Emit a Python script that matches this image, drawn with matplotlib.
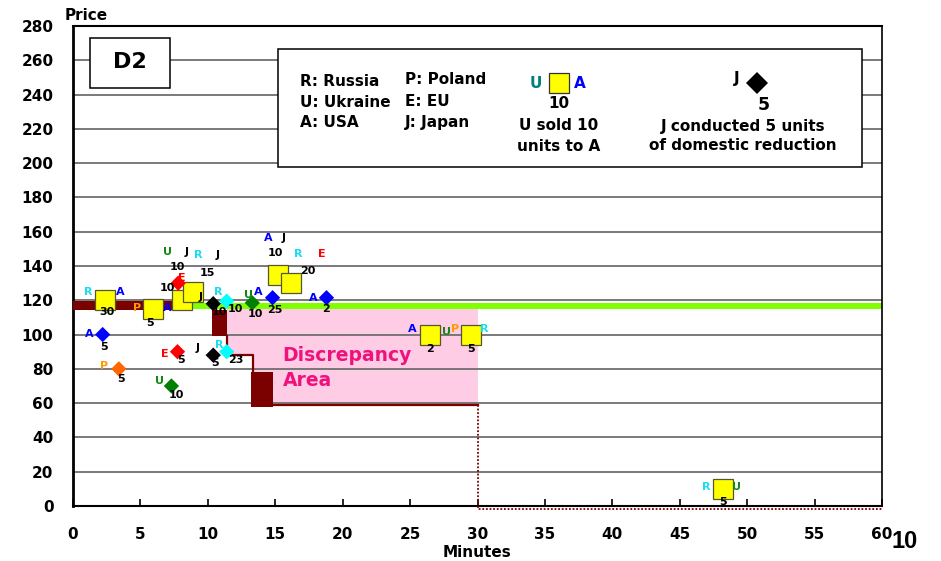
import matplotlib
matplotlib.use("Agg")
import matplotlib.pyplot as plt
from matplotlib.patches import Rectangle
from matplotlib.lines import Line2D

#%% data
# trades: square markers, seller on the left, buyer on the right
trade_min = [2.4, 5.9, 8.1, 8.9, 15.2, 16.2, 26.5, 29.5, 48.2]
trade_price = [120, 115, 120, 125, 135, 130, 100, 100, 10]
trade_seller = ["R", "P", "U", "R", "A", "R", "A", "P", "R"]
trade_buyer = ["A", "A", "J", "J", "J", "E", "U", "R", "U"]
trade_qty = [30, 5, 10, 15, 10, 20, 2, 5, 5]

# domestic reductions: diamond markers
red_min = [2.2, 3.4, 7.3, 7.75, 7.8, 10.4, 11.4, 13.3, 14.8, 18.8, 10.4, 11.4]
red_price = [100, 80, 70, 90, 130, 118, 119.5, 118.5, 121.5, 121.5, 88, 90]
red_country = ["A", "P", "U", "E", "E", "J", "R", "U", "A", "A", "J", "R"]
red_qty = [5, 5, 10, 5, 10, 10, 10, 10, 25, 2, 5, 23]

# supply step (dark red) and the discrepancy area
block_start = [0, 10.33, 13.18]
block_end = [7.72, 11.45, 14.81]
block_low = [114.4, 99.2, 57.9]
block_high = [119.6, 114.4, 78.4]
step_x = [11.45, 11.45, 13.33, 13.33]
step_y = [99.2, 88.1, 88.1, 78.4]
floor_x = [14.81, 30]
floor_y = [58.9, 58.9]
tail_x = [30, 30, 60]
tail_y = [58.9, -2, -2]
gap_x = [11.45, 13.33, 30]
gap_low = [88.1, 58.9, 58.9]
gap_top = 114.9
market_price = 116.7
market_from = 7.72

x_ticks = list(range(0, 61, 5))
y_ticks = list(range(0, 281, 20))

#%% label offsets (pixels) for each marker
trade_offsets = [
    ((-17, 8), (15, 8), (2, -12)),
    ((-15, 1), (15, 1), (-3, -14)),
    ((-15, 48), (4, 48), (-5, 33)),
    ((5, 37), (25, 37), (14, 19)),
    ((-10, 37), (6, 37), (-3, 22)),
    ((7, 29), (30, 29), (16, 12)),
    ((-18, 6), (16, 3), (0, -14)),
    ((-16, 6), (13, 6), (0, -14)),
    ((-17, 2), (14, 2), (0, -13)),
]
red_offsets = [
    ((-13, 1), (1, -12)),
    ((-15, 3), (2, -10)),
    ((-12, 5), (5, -9)),
    ((-13, -2), (4, -8)),
    ((4, 5), (-11, -5)),
    ((-13, 7), (6, -8)),
    ((-8, 9), (9, -8)),
    ((-4, 8), (3, -11)),
    ((-14, 6), (2, -12)),
    ((-13, 0), (0, -11)),
    ((-16, 7), (2, -8)),
    ((-7, 7), (9, -8)),
]

label_color = {"R": "#18DDEE", "U": "#118811", "A": "#0000FF",
               "P": "#FF9900", "E": "#FF0000", "J": "#000000"}
marker_color = {"R": "#00FFFF", "U": "#008000", "A": "#0000FF",
                "P": "#FF6600", "E": "#FF0000", "J": "#000000"}
MAROON = "#7B0000"
FONT = "DejaVu Sans"

W, H = 941, 561
fig = plt.figure(figsize=(W / 100, H / 100), dpi=100)
ax = fig.add_axes([73 / W, 1 - 506 / H, 809 / W, 480 / H])


def fx(px):
    return px / W


def fy(py):
    return 1 - py / H


#%% background: grid and discrepancy area
for v in y_ticks[1:-1]:
    ax.axhline(v, color="#6E6E6E", lw=1.3, zorder=1)

ax.fill_between(gap_x, gap_low, gap_top, step="post", color="#FFCCE6",
                lw=0, zorder=0.5)

ax.text(15.55, 84.8, "Discrepancy", color="#F0127C", fontsize=13.5,
        fontweight="bold", family=FONT, va="baseline", zorder=3)
ax.text(15.55, 70.2, "Area", color="#F0127C", fontsize=13.5,
        fontweight="bold", family=FONT, va="baseline", zorder=3)

#%% market line and supply step
ax.plot([market_from, 60], [market_price, market_price], color="#7FFF00",
        lw=4.3, solid_capstyle="butt", zorder=2)
for x0, x1, lo, hi in zip(block_start, block_end, block_low, block_high):
    ax.bar(x0, hi - lo, width=x1 - x0, bottom=lo, align="edge",
           color=MAROON, lw=0, zorder=3)
ax.plot(step_x, step_y, color=MAROON, lw=1.6, zorder=3)
ax.plot(floor_x, floor_y, color=MAROON, lw=1.6, zorder=3)
ax.plot(tail_x, tail_y, color=MAROON, lw=1.3, ls=(0, (1, 1)), zorder=3,
        clip_on=False)

#%% markers and their labels
ax.plot(trade_min, trade_price, "s", ms=14.4, mfc="#FFFF00", mec="#555533",
        mew=0.9, ls="none", zorder=5)
ax.scatter(red_min, red_price, marker="D", s=7.8 ** 2,
           c=[marker_color[c] for c in red_country], lw=0, zorder=6)

small = dict(fontsize=8, fontweight="bold", family=FONT, ha="center",
             va="center", textcoords="offset pixels", zorder=7)
for i in range(len(trade_min)):
    xy = (trade_min[i], trade_price[i])
    so, bo, qo = trade_offsets[i]
    ax.annotate(trade_seller[i], xy, xytext=so,
                color=label_color[trade_seller[i]], **small)
    ax.annotate(trade_buyer[i], xy, xytext=bo,
                color=label_color[trade_buyer[i]], **small)
    ax.annotate(str(trade_qty[i]), xy, xytext=qo, color="black", **small)

for i in range(len(red_min)):
    xy = (red_min[i], red_price[i])
    co, qo = red_offsets[i]
    ax.annotate(red_country[i], xy, xytext=co,
                color=label_color[red_country[i]], **small)
    ax.annotate(str(red_qty[i]), xy, xytext=qo, color="black", **small)

#%% axes
ax.set_xlim(0, 60)
ax.set_ylim(0, 280)
ax.set_xticks(x_ticks)
ax.set_yticks(y_ticks)
ax.tick_params(axis="x", direction="in", length=5, width=1.2, pad=15,
               labelsize=11)
ax.tick_params(axis="y", length=0, pad=14, labelsize=11)
for lab in ax.get_xticklabels() + ax.get_yticklabels():
    lab.set_fontweight("bold")
    lab.set_family(FONT)
ax.spines["left"].set_linewidth(2.0)
ax.spines["bottom"].set_linewidth(1.5)
ax.spines["top"].set_linewidth(1.5)
ax.spines["right"].set_linewidth(1.2)
ax.set_xlabel("Minutes", fontsize=11, fontweight="bold", family=FONT,
              labelpad=2)

fig.text(fx(86), fy(15), "Price", fontsize=11, fontweight="bold",
         family=FONT, ha="center", va="center")
fig.text(fx(905), fy(541), "10", fontsize=17, fontweight="bold",
         family="Liberation Sans", ha="center", va="center")

#%% D2 box
fig.add_artist(Rectangle((fx(90), fy(88)), 80 / W, 50 / H, facecolor="white",
                         edgecolor="black", lw=1.1, transform=fig.transFigure,
                         zorder=3))
fig.text(fx(130), fy(62), "D2", fontsize=16, fontweight="bold", family=FONT,
         ha="center", va="center", zorder=4)

#%% legend box
fig.add_artist(Rectangle((fx(278), fy(167)), (862 - 278) / W, (167 - 49) / H,
                         facecolor="white", edgecolor="black", lw=1.1,
                         transform=fig.transFigure, zorder=3))
leg = dict(fontsize=11, fontweight="bold", family=FONT, zorder=4)
for txt, px, py in [("R: Russia", 300, 81), ("U: Ukraine", 300, 102),
                    ("A: USA", 300, 122), ("P: Poland", 405, 80),
                    ("E: EU", 405, 101), ("J: Japan", 405, 122)]:
    fig.text(fx(px), fy(py), txt, ha="left", va="center", **leg)

fig.add_artist(Line2D([fx(559)], [fy(83)], marker="s", ms=13.7,
                      mfc="#FFFF00", mec="#333333", mew=0.9, ls="none",
                      transform=fig.transFigure, zorder=4))
fig.text(fx(536), fy(84), "U", color="#008080", ha="center", va="center",
         **leg)
fig.text(fx(580), fy(84), "A", color="#0000FF", ha="center", va="center",
         **leg)
fig.text(fx(559), fy(103), "10", ha="center", va="center", **leg)
fig.text(fx(559), fy(126), "U sold 10", ha="center", va="center", **leg)
fig.text(fx(559), fy(147), "units to A", ha="center", va="center", **leg)

fig.add_artist(Line2D([fx(757)], [fy(83)], marker="D", ms=11.2, mfc="black",
                      mec="black", mew=0, ls="none",
                      transform=fig.transFigure, zorder=4))
fig.text(fx(737), fy(79), "J", ha="center", va="center", **leg)
fig.text(fx(764), fy(105), "5", ha="center", va="center",
         fontsize=12.5, fontweight="bold", family=FONT, zorder=4)
fig.text(fx(743), fy(126), "J conducted 5 units", ha="center", va="center",
         **leg)
fig.text(fx(743), fy(145), "of domestic reduction", ha="center",
         va="center", **leg)

fig.savefig("out.png", dpi=100)
